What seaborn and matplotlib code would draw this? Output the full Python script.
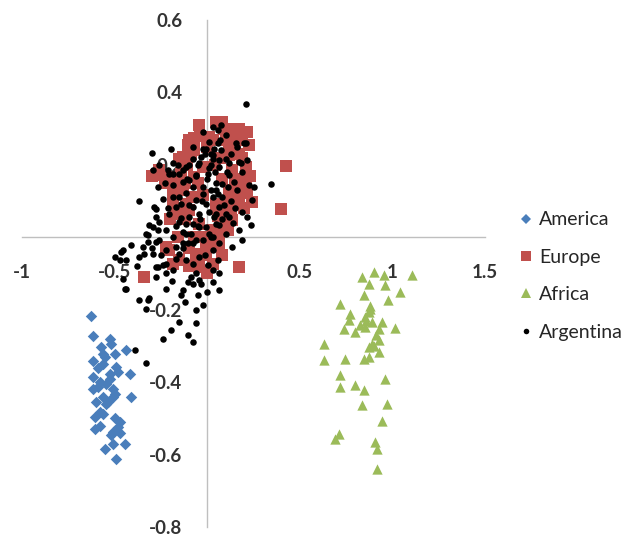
import numpy as np
import pandas as pd
import matplotlib
matplotlib.use("Agg")
import matplotlib.pyplot as plt
from matplotlib.lines import Line2D
import seaborn as sns

# axis ticks and labels
x_ticks = [-1, -0.5, 0, 0.5, 1, 1.5]
x_tick_labels = ['-1', '-0.5', '0', '0.5', '1', '1.5']
y_ticks = [-0.8, -0.6, -0.4, -0.2, 0.2, 0.4, 0.6]
y_tick_labels = ['-0.8', '-0.6', '-0.4', '-0.2', '0.2', '0.4', '0.6']

groups = ['America', 'Europe', 'Africa', 'Argentina']

# points (x, y)
america = [
    (-0.625, -0.217), (-0.617, -0.273), (-0.527, -0.280), (-0.572, -0.303), (-0.518, -0.294),
    (-0.563, -0.321), (-0.437, -0.310), (-0.500, -0.321), (-0.617, -0.342), (-0.563, -0.349),
    (-0.491, -0.358), (-0.527, -0.377), (-0.482, -0.372), (-0.581, -0.400), (-0.617, -0.418),
    (-0.545, -0.404), (-0.509, -0.418), (-0.500, -0.432), (-0.419, -0.377), (-0.410, -0.441),
    (-0.563, -0.441), (-0.598, -0.455), (-0.545, -0.460), (-0.581, -0.483), (-0.563, -0.487),
    (-0.608, -0.496), (-0.473, -0.510), (-0.482, -0.524), (-0.608, -0.529), (-0.509, -0.538),
    (-0.518, -0.547), (-0.446, -0.570), (-0.509, -0.570), (-0.554, -0.584), (-0.491, -0.611),
    (-0.617, -0.386), (-0.590, -0.414), (-0.509, -0.441), (-0.527, -0.390), (-0.536, -0.455),
    (-0.590, -0.360), (-0.550, -0.330), (-0.500, -0.500), (-0.580, -0.520), (-0.470, -0.540),
]

europe = [
    (-0.043, 0.309), (0.065, 0.314), (0.172, 0.300), (0.217, 0.291), (0.136, 0.286),
    (-0.097, 0.268), (0.011, 0.277), (-0.079, 0.240), (-0.133, 0.222), (0.118, 0.249),
    (0.172, 0.231), (-0.276, 0.171), (-0.222, 0.167), (-0.141, 0.176), (-0.025, 0.194),
    (0.136, 0.185), (0.208, 0.176), (0.208, 0.148), (0.217, 0.121), (0.244, 0.098),
    (0.172, 0.093), (-0.177, 0.130), (-0.187, 0.102), (-0.168, 0.079), (-0.115, 0.093),
    (0.118, 0.130), (0.100, 0.065), (0.136, 0.047), (0.065, 0.010), (0.029, -0.017),
    (-0.007, -0.045), (0.029, -0.073), (-0.043, -0.082), (-0.187, -0.073), (-0.222, -0.027),
    (0.172, -0.082), (0.423, 0.197), (0.400, 0.079), (0.154, 0.098), (0.127, 0.070),
    (0.100, 0.038), (0.029, 0.019), (0.047, -0.017), (0.181, 0.121), (-0.187, 0.130),
    (-0.151, 0.065), (-0.097, 0.075), (-0.025, 0.116), (-0.043, 0.038), (-0.034, 0.001),
    (-0.007, -0.027), (0.038, 0.015), (-0.133, 0.130), (-0.070, 0.167), (0.047, 0.093),
    (-0.339, -0.110), (-0.204, -0.036), (-0.061, -0.045), (-0.043, -0.073), (-0.151, -0.064),
    (-0.025, -0.050), (0.065, -0.017), (0.082, 0.318), (0.136, 0.273), (0.226, 0.254),
    (0.118, 0.227), (0.208, 0.194), (0.047, 0.318), (-0.070, 0.273), (-0.106, 0.254),
    (-0.070, 0.240), (-0.151, 0.217), (-0.258, 0.185), (0.000, 0.250), (0.030, 0.270),
    (0.090, 0.300), (0.150, 0.250), (0.190, 0.220), (0.070, 0.220), (0.040, 0.200),
    (-0.050, 0.150), (0.080, 0.160), (0.150, 0.160), (0.180, 0.140), (0.100, 0.100),
    (0.060, 0.060), (-0.080, 0.110), (-0.120, 0.050), (-0.070, 0.000), (-0.100, -0.030),
    (0.000, -0.100), (-0.100, -0.080), (0.080, -0.050), (-0.160, 0.000), (-0.200, 0.050),
    (0.110, 0.020), (-0.230, 0.150), (-0.300, 0.170), (0.200, 0.080), (0.230, 0.170),
    (-0.110, 0.200), (-0.040, 0.280), (0.110, 0.300), (0.190, 0.270), (0.100, 0.270),
    (-0.120, 0.150), (-0.180, 0.160), (-0.090, 0.230),
]

africa = [
    (0.835, -0.110), (0.898, -0.096), (0.952, -0.105), (1.104, -0.105), (0.871, -0.128),
    (0.961, -0.133), (1.041, -0.151), (0.844, -0.160), (0.978, -0.174), (0.719, -0.183),
    (0.880, -0.197), (0.772, -0.211), (0.763, -0.229), (0.853, -0.220), (0.943, -0.234),
    (0.889, -0.234), (0.826, -0.243), (0.737, -0.252), (0.799, -0.262), (0.853, -0.248),
    (0.925, -0.252), (1.014, -0.250), (0.629, -0.294), (0.889, -0.294), (0.925, -0.285),
    (0.871, -0.303), (0.925, -0.317), (0.629, -0.340), (0.745, -0.335), (0.844, -0.335),
    (0.871, -0.331), (0.719, -0.381), (0.961, -0.390), (0.719, -0.413), (0.799, -0.409),
    (0.844, -0.423), (0.835, -0.464), (0.970, -0.459), (0.943, -0.506), (0.710, -0.542),
    (0.692, -0.556), (0.907, -0.565), (0.915, -0.584), (0.915, -0.639), (0.871, -0.206),
    (0.860, -0.230), (0.880, -0.190), (0.910, -0.270), (0.900, -0.300),
]

argentina = [
    (0.208, 0.369), (-0.297, 0.232), (-0.195, 0.245), (-0.366, 0.101), (0.346, 0.146),
    (0.029, 0.305), (0.073, 0.309), (0.100, 0.282), (0.208, 0.261), (0.163, 0.249),
    (-0.079, 0.249), (-0.025, 0.245), (0.056, 0.259), (0.029, 0.227), (-0.043, 0.205),
    (-0.115, 0.194), (-0.187, 0.176), (-0.061, 0.171), (0.002, 0.176), (0.065, 0.213),
    (0.118, 0.204), (0.172, 0.208), (0.217, 0.213), (0.253, 0.139), (0.244, 0.102),
    (0.217, 0.056), (0.172, 0.019), (0.190, -0.008), (0.100, 0.010), (0.118, 0.056),
    (0.065, 0.084), (0.029, 0.111), (-0.025, 0.139), (-0.079, 0.139), (-0.133, 0.153),
    (-0.115, 0.121), (-0.187, 0.111), (-0.240, 0.107), (-0.276, 0.079), (-0.204, 0.065),
    (-0.141, 0.093), (-0.079, 0.084), (-0.043, 0.065), (-0.097, 0.056), (-0.151, 0.042),
    (-0.258, 0.042), (-0.294, 0.028), (-0.330, 0.010), (-0.222, 0.019), (-0.187, 0.001),
    (-0.115, 0.010), (-0.043, 0.028), (0.011, 0.010), (0.047, 0.038), (-0.025, -0.008),
    (-0.079, -0.017), (-0.258, -0.008), (-0.348, -0.027), (-0.455, -0.036), (-0.500, -0.054),
    (-0.437, -0.064), (-0.294, -0.045), (-0.222, -0.036), (-0.151, -0.045), (-0.115, -0.064),
    (-0.222, -0.073), (-0.276, -0.082), (-0.043, -0.054), (0.029, -0.036), (0.065, -0.017),
    (0.136, -0.027), (-0.473, -0.064), (-0.455, -0.114), (-0.437, -0.142), (-0.366, -0.054),
    (-0.339, -0.045), (-0.267, -0.082), (-0.240, -0.077), (-0.222, -0.100), (-0.276, -0.110),
    (-0.222, -0.142), (-0.133, -0.146), (-0.106, -0.123), (-0.079, -0.128), (-0.043, -0.119),
    (-0.141, -0.160), (-0.366, -0.174), (-0.312, -0.169), (-0.330, -0.197), (-0.151, -0.234),
    (-0.061, -0.202), (-0.195, -0.257), (-0.106, -0.271), (-0.240, -0.280), (-0.079, -0.289),
    (-0.168, -0.027), (-0.133, -0.017), (-0.079, -0.073), (-0.187, -0.091), (0.002, -0.077),
    (0.029, -0.123), (0.065, -0.100), (0.065, -0.146), (-0.025, -0.188), (-0.034, -0.128),
    (0.056, -0.064), (-0.446, -0.142), (-0.464, -0.041), (-0.321, -0.174), (-0.061, -0.238),
    (-0.392, -0.310), (-0.333, -0.347), (0.226, 0.144), (0.235, 0.033), (0.118, 0.171),
    (0.145, 0.153), (0.082, 0.148), (0.047, 0.130), (0.082, 0.111), (0.038, 0.056),
    (0.100, 0.065), (0.065, 0.033), (0.029, 0.001), (-0.267, 0.139), (-0.285, 0.084),
    (-0.276, 0.056), (-0.312, 0.033), (-0.267, 0.019), (-0.321, 0.006), (-0.321, -0.013),
    (-0.276, -0.013), (-0.168, 0.084), (-0.141, 0.052), (-0.115, 0.038), (-0.133, 0.015),
    (-0.187, 0.144), (-0.097, 0.157), (-0.061, 0.102), (-0.007, 0.093), (0.020, 0.130),
    (0.047, 0.065), (-0.079, 0.038), (-0.007, 0.028), (-0.061, -0.008), (0.020, 0.001),
    (-0.106, -0.017), (-0.151, 0.176), (-0.204, 0.176), (0.056, 0.296), (0.011, 0.263),
    (0.038, 0.245), (0.073, 0.240), (0.020, 0.231), (0.154, 0.259), (0.199, 0.259),
    (0.100, 0.217), (0.029, 0.217), (0.181, 0.204), (0.065, 0.194), (0.109, 0.181),
    (0.190, 0.181), (-0.025, 0.291), (-0.007, 0.245), (-0.034, 0.222), (-0.079, 0.217),
    (-0.097, 0.199), (-0.052, 0.199), (-0.187, 0.204), (-0.258, 0.199), (-0.294, 0.185),
    (-0.213, 0.185), (-0.133, 0.185), (0.011, 0.190), (-0.020, 0.120), (0.000, 0.160),
    (0.040, 0.180), (-0.040, 0.050), (0.010, 0.070), (0.050, 0.150), (0.080, 0.050),
    (-0.010, -0.050), (0.030, -0.090), (-0.060, -0.100), (-0.090, -0.110), (-0.120, -0.180),
    (-0.050, -0.160), (0.000, -0.150), (-0.030, 0.100), (0.060, 0.120), (0.090, 0.090),
    (0.130, 0.100), (0.140, 0.040), (0.110, 0.140), (-0.050, 0.030), (-0.090, 0.010),
    (-0.130, -0.030), (-0.170, -0.060), (-0.190, -0.120), (-0.250, -0.050), (-0.300, -0.030),
    (-0.380, -0.080), (-0.410, -0.020), (-0.170, 0.030), (-0.210, 0.080), (-0.230, 0.150),
    (-0.150, 0.110), (-0.100, 0.090), (-0.060, 0.170), (0.020, 0.200), (0.070, 0.270),
    (0.130, 0.230), (0.160, 0.130), (0.190, 0.070), (0.150, 0.080), (-0.010, 0.230),
    (-0.110, 0.160), (-0.160, 0.200),
]

colors = {'America': '#4a7ebb', 'Europe': '#c0504d', 'Africa': '#9bbb59', 'Argentina': '#000000'}
markers = {'America': 'D', 'Europe': 's', 'Africa': '^', 'Argentina': 'o'}
sizes = {'America': 34, 'Europe': 72, 'Africa': 55, 'Argentina': 22}
legend_sizes = {'America': 5, 'Europe': 7, 'Africa': 6.5, 'Argentina': 4}

data = {'America': america, 'Europe': europe, 'Africa': africa, 'Argentina': argentina}

sns.set_style('white')
plt.rcParams['font.family'] = ['Lato', 'DejaVu Sans']

fig = plt.figure(figsize=(6.33, 5.38), dpi=100)
ax = fig.add_axes([22 / 633, 11 / 538, 463 / 633, 507 / 538])

for g in groups:
    df = pd.DataFrame(data[g], columns=['x', 'y'])
    sns.scatterplot(data=df, x='x', y='y', marker=markers[g], color=colors[g],
                    s=sizes[g], linewidth=0, ax=ax, zorder=3, legend=False)

ax.set_xlim(-1, 1.5)
ax.set_ylim(-0.8, 0.6)
ax.set_xlabel('')
ax.set_ylabel('')

# axes crossing at the origin, Excel style
axis_grey = '#bfbfbf'
ax.spines['left'].set_position(('data', 0))
ax.spines['bottom'].set_position(('data', 0))
ax.spines['right'].set_visible(False)
ax.spines['top'].set_visible(False)
for s in ['left', 'bottom']:
    ax.spines[s].set_color(axis_grey)
    ax.spines[s].set_linewidth(1)

ax.set_xticks(x_ticks)
ax.set_xticklabels(x_tick_labels)
ax.set_yticks(y_ticks)
ax.set_yticklabels(y_tick_labels)
ax.tick_params(axis='both', direction='out', length=6, width=1, color=axis_grey,
               labelcolor='#333333', labelsize=13.5)
ax.tick_params(axis='x', pad=13)
ax.tick_params(axis='y', pad=12)
for lab in ax.get_xticklabels() + ax.get_yticklabels():
    lab.set_fontweight('bold')

handles = [Line2D([], [], linestyle='none', marker=markers[g], color=colors[g],
                  markersize=legend_sizes[g], markeredgewidth=0) for g in groups]
fig.legend(handles, groups, loc='upper left', bbox_to_anchor=(0.822, 0.607),
           frameon=False, fontsize=14, handlelength=0.6, handletextpad=0.35,
           labelspacing=1.05, borderpad=0, borderaxespad=0, labelcolor='#262626')

fig.savefig('out.png', dpi=100)
